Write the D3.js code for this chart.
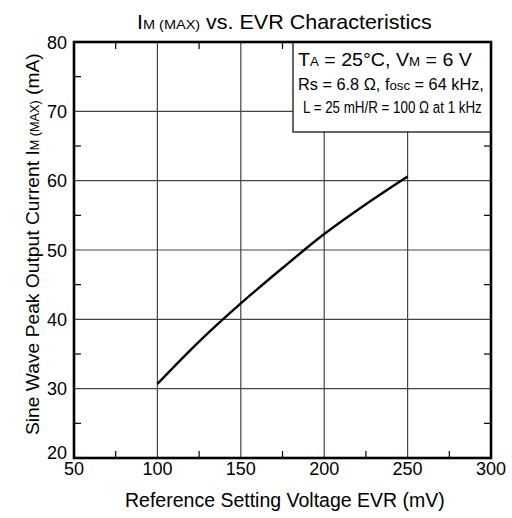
<!DOCTYPE html>
<html><head><meta charset="utf-8">
<script src="https://cdn.jsdelivr.net/npm/d3@7/dist/d3.min.js"></script>
<style>
html,body{margin:0;padding:0;background:#fff;}
text{font-family:"Liberation Sans",Arial,sans-serif;fill:#000;}
</style></head>
<body>
<svg id="c" width="512" height="518"></svg>
<script>
const evr = [100, 125, 150, 175, 200, 225, 250];
const current = [30.7, 36.8, 42.3, 47.4, 52.3, 56.6, 60.6];
const xTicks = [50, 100, 150, 200, 250, 300];
const yTicks = [20, 30, 40, 50, 60, 70, 80];
const xMinor = [75, 125, 175, 225, 275];
const yMinor = [25, 35, 45, 55, 65, 75];

const svg = d3.select("#c");
const L = 74, R = 491, T = 42, B = 458;
const x = d3.scaleLinear().domain([50, 300]).range([L, R]);
const y = d3.scaleLinear().domain([20, 80]).range([B, T]);

// fit a text (anchored at its start, at 0,0) to a width by horizontal scaling
function fit(sel, px, py, width, rot) {
  const w = sel.node().getComputedTextLength();
  const s = width / w;
  sel.attr("transform", `translate(${px},${py})` + (rot ? ` rotate(${rot})` : "") + ` scale(${s},1)`);
}

// grid
const g = svg.append("g");
g.selectAll(".vx").data(xTicks.slice(1, -1)).enter().append("line")
  .attr("x1", d => x(d)).attr("x2", d => x(d)).attr("y1", T).attr("y2", B)
  .attr("stroke", "#444").attr("stroke-width", 1.2);
g.selectAll(".hy").data(yTicks.slice(1, -1)).enter().append("line")
  .attr("y1", d => y(d)).attr("y2", d => y(d)).attr("x1", L).attr("x2", R)
  .attr("stroke", "#444").attr("stroke-width", 1.2);

// minor ticks (inward on all four sides)
const tl = 7;
xMinor.forEach(v => {
  g.append("line").attr("x1", x(v)).attr("x2", x(v)).attr("y1", B).attr("y2", B - tl).attr("stroke", "#000").attr("stroke-width", 1.2);
  g.append("line").attr("x1", x(v)).attr("x2", x(v)).attr("y1", T).attr("y2", T + tl).attr("stroke", "#000").attr("stroke-width", 1.2);
});
yMinor.forEach(v => {
  g.append("line").attr("y1", y(v)).attr("y2", y(v)).attr("x1", L).attr("x2", L + tl).attr("stroke", "#000").attr("stroke-width", 1.2);
  g.append("line").attr("y1", y(v)).attr("y2", y(v)).attr("x1", R).attr("x2", R - tl).attr("stroke", "#000").attr("stroke-width", 1.2);
});

// curve
const pts = evr.map((v, i) => [v, current[i]]);
svg.append("path").datum(pts)
  .attr("d", d3.line().x(d => x(d[0])).y(d => y(d[1])).curve(d3.curveCatmullRom))
  .attr("fill", "none").attr("stroke", "#000").attr("stroke-width", 2.4);

// legend box
const bx = 293, by = T, bw = R - 293, bh = 132 - T;
svg.append("rect").attr("x", bx).attr("y", by).attr("width", bw).attr("height", bh)
  .attr("fill", "#fff").attr("stroke", "#000").attr("stroke-width", 1.2);

const l1 = svg.append("text").attr("font-size", 18.5);
l1.append("tspan").text("T");
l1.append("tspan").attr("font-size", 12.5).text("A");
l1.append("tspan").text(" = 25°C, V");
l1.append("tspan").attr("font-size", 12.5).text("M");
l1.append("tspan").text(" = 6 V");
fit(l1, 298, 66, 174);

const l2 = svg.append("text").attr("font-size", 16);
l2.append("tspan").text("Rs = 6.8 Ω, f");
l2.append("tspan").attr("font-size", 13).text("osc");
l2.append("tspan").text(" = 64 kHz,");
fit(l2, 298, 90, 186);

const l3 = svg.append("text").attr("font-size", 16.5).text("L = 25 mH/R = 100 Ω at 1 kHz");
fit(l3, 303, 113, 179);

// frame
svg.append("rect").attr("x", L).attr("y", T).attr("width", R - L).attr("height", B - T)
  .attr("fill", "none").attr("stroke", "#000").attr("stroke-width", 2.6);

// tick labels
svg.selectAll(".xl").data(xTicks).enter().append("text")
  .attr("x", d => x(d)).attr("y", 475).attr("text-anchor", "middle").attr("font-size", 18)
  .text(d => d);
svg.selectAll(".yl").data(yTicks).enter().append("text")
  .attr("x", 67).attr("y", d => y(d) + 6.5 - (d === 20 ? 6 : 0)).attr("text-anchor", "end").attr("font-size", 18)
  .text(d => d);

// title
const t = svg.append("text").attr("font-size", 20);
t.append("tspan").text("I");
t.append("tspan").attr("font-size", 13.5).text("M (MAX)");
t.append("tspan").text(" vs. EVR Characteristics");
fit(t, 137, 29, 295);

// x axis label
const xl = svg.append("text").attr("font-size", 19.5).text("Reference Setting Voltage EVR (mV)");
fit(xl, 125, 507, 320);

// y axis label
const yl = svg.append("text").attr("font-size", 19);
yl.append("tspan").text("Sine Wave Peak Output Current I");
yl.append("tspan").attr("font-size", 12.5).text("M (MAX)");
yl.append("tspan").text(" (mA)");
fit(yl, 39, 435, 382, -90);
</script>
</body></html>
